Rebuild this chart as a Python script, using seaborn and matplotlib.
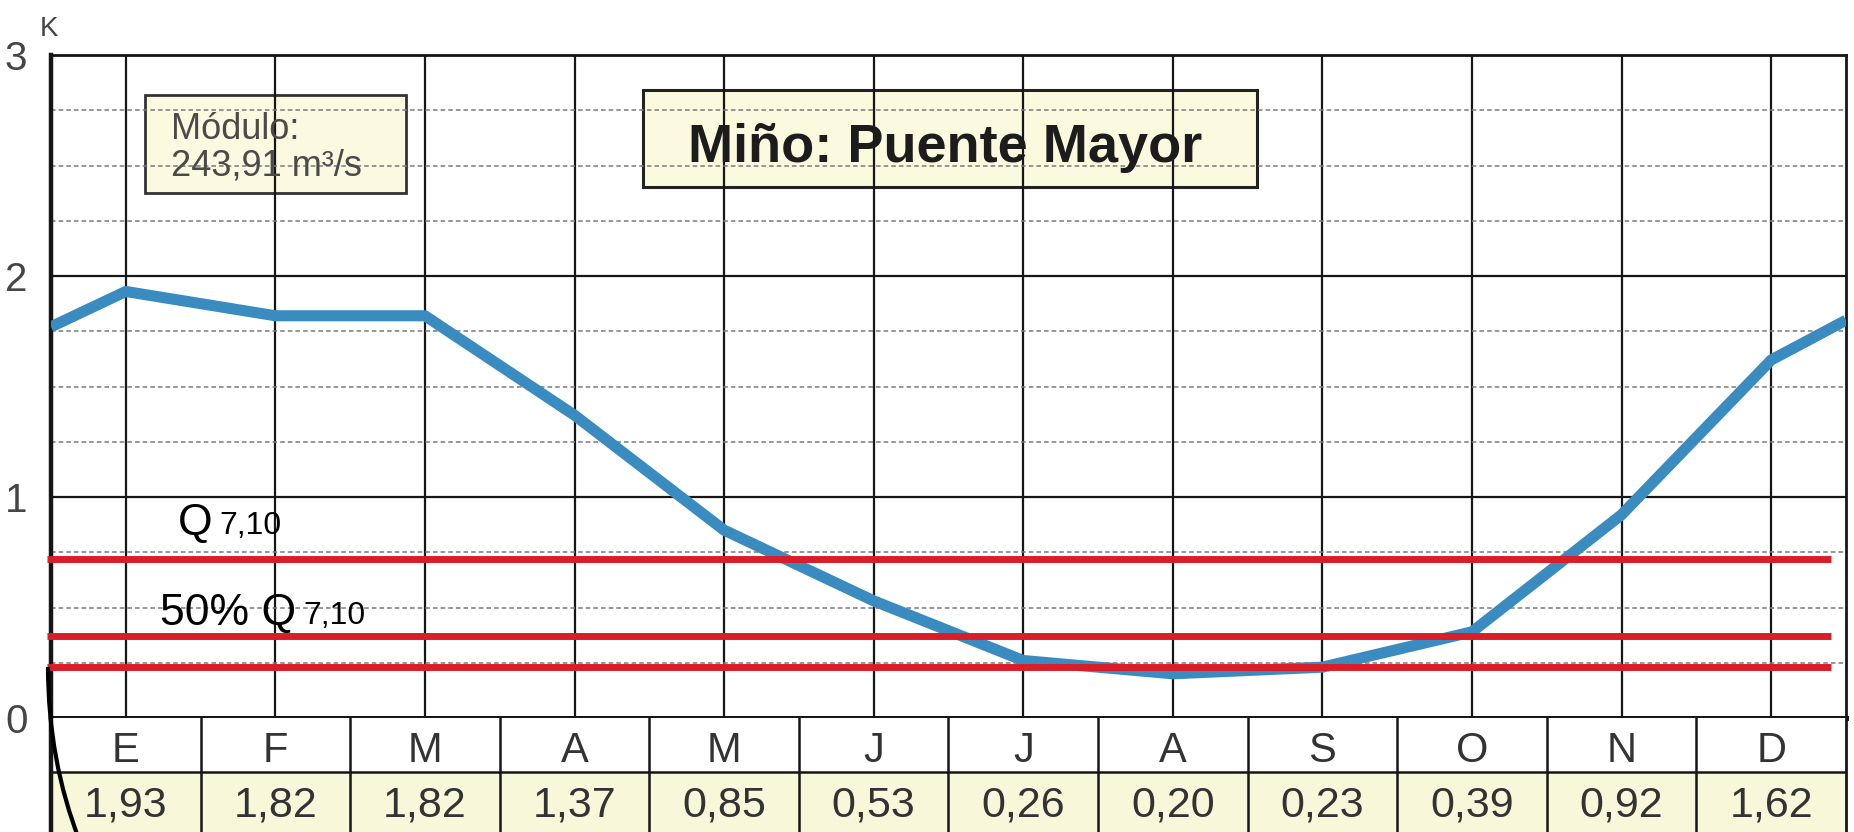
import numpy as np
import pandas as pd
import matplotlib
matplotlib.use("Agg")
import matplotlib.pyplot as plt
import matplotlib.transforms as mtransforms
from matplotlib.patches import Rectangle, PathPatch
from matplotlib.path import Path
import seaborn as sns

# ---------------- data ----------------
months = ["E", "F", "M", "A", "M", "J", "J", "A", "S", "O", "N", "D"]
k_values = [1.93, 1.82, 1.82, 1.37, 0.85, 0.53, 0.26, 0.20, 0.23, 0.39, 0.92, 1.62]
edge_left = 1.77    # curve value read at the left frame (continuation from December)
edge_right = 1.80   # curve value read at the right frame (continuation to January)
q_levels = [0.72, 0.37, 0.23]
y_ticks = [0, 1, 2, 3]
title = "Miño: Puente Mayor"
modulo_lines = ["Módulo:", "243,91 m³/s"]

W, H = 1854, 832
BLUE = "#3a8bc0"
RED = "#d91e2a"
YELLOW = "#f9f7da"
INK = "#161616"

sns.set_theme(style="white")
plt.rcParams['font.family'] = ['Liberation Sans', 'DejaVu Sans']

fig = plt.figure(figsize=(W / 100, H / 100), dpi=100)
fig.patch.set_facecolor("white")


def px(x0, y0, x1, y1):
    return [x0 / W, 1 - y1 / H, (x1 - x0) / W, (y1 - y0) / H]


tpx = mtransforms.Affine2D().scale(1 / W, -1 / H).translate(0, 1) + fig.transFigure

L, R, T, B0 = 51, 1846, 55, 718
ax = fig.add_axes(px(L, T, R, B0))
tab = fig.add_axes(px(L, B0, R, 842))

# ---------------- main chart ----------------
df = pd.DataFrame({
    "x": [-0.5] + list(range(len(months))) + [len(months) - 0.5],
    "k": [edge_left] + k_values + [edge_right],
})
sns.lineplot(data=df, x="x", y="k", ax=ax, color=BLUE, lw=8, sort=False,
             solid_joinstyle="round", solid_capstyle="butt", zorder=5)

ax.set_xlim(-0.5, len(months) - 0.5)
ax.set_ylim(0, 3)
ax.set_xticks(range(len(months)))
ax.set_xticklabels([])
ax.set_xlabel("")
ax.set_ylabel("")
ax.set_yticks(y_ticks)
ax.set_yticklabels([str(v) for v in y_ticks], fontsize=29, color="#454545")
ax.set_yticks(np.arange(0.25, 3.0, 0.25), minor=True)
ax.tick_params(axis="both", which="both", length=0)
ax.tick_params(axis="y", pad=17)
ax.set_axisbelow(True)
ax.grid(which="major", axis="both", color=INK, lw=1.6)
ax.grid(which="minor", axis="y", color="#7a7a7a", lw=1.1, ls=(0, (3, 2)))
ax.set_facecolor("white")
for side, lw in (("left", 3.2), ("bottom", 3.6), ("top", 2.0), ("right", 2.0)):
    ax.spines[side].set_visible(True)
    ax.spines[side].set_color(INK)
    ax.spines[side].set_linewidth(lw)

# Q7,10 levels
ax.hlines(q_levels, -0.53, 11.4, colors=RED, lw=5, clip_on=False, zorder=6)
q1 = ax.text(0.35, 0.83, "Q", fontsize=32, color="black", va="baseline", ha="left", zorder=7)
ax.annotate("7,10", xy=(1, 0), xycoords=q1, xytext=(5, 2), textcoords="offset points",
            fontsize=23, va="bottom", ha="left", color="black", zorder=7)
q2 = ax.text(0.23, 0.42, "50% Q", fontsize=32, color="black", va="baseline", ha="left", zorder=7)
ax.annotate("7,10", xy=(1, 0), xycoords=q2, xytext=(5, 2), textcoords="offset points",
            fontsize=23, va="bottom", ha="left", color="black", zorder=7)

# title box
ax.add_patch(Rectangle((643, 90), 614, 97, transform=tpx, facecolor="#fbfadf",
                       edgecolor="#222222", lw=2.2, zorder=0.3))
ax.text(688, 162, title, transform=tpx, fontsize=39, fontweight="bold", color="#1c1c1c",
        ha="left", va="baseline", zorder=4)

# module box
ax.add_patch(Rectangle((145, 95), 261, 98, transform=tpx, facecolor="#fafae0",
                       edgecolor="#333333", lw=2.0, zorder=0.3))
ax.text(171, 139, modulo_lines[0], transform=tpx, fontsize=26, color="#4a4a4a",
        ha="left", va="baseline", zorder=4)
ax.text(171, 176, modulo_lines[1], transform=tpx, fontsize=26, color="#4a4a4a",
        ha="left", va="baseline", zorder=4)

# K unit
fig.text(40, 36, "K", transform=tpx, fontsize=20, color="#454545", ha="left", va="baseline")

# ---------------- table ----------------
tab.set_xlim(-0.5, len(months) - 0.5)
tab.set_ylim(0, 124)
tab.axhspan(0, 70, color=YELLOW, zorder=0)
tab.axhline(70, color=INK, lw=1.8, zorder=2)
tab.set_xticks(np.arange(0.5, len(months) - 1, 1.0))
tab.set_xticklabels([])
tab.set_yticks([])
tab.tick_params(length=0)
tab.grid(which="major", axis="x", color=INK, lw=1.8)
tab.set_facecolor("white")
for side in ("left", "right", "bottom"):
    tab.spines[side].set_visible(True)
    tab.spines[side].set_color(INK)
tab.spines["left"].set_linewidth(3.2)
tab.spines["right"].set_linewidth(2.0)
tab.spines["top"].set_visible(False)
for i, (m, v) in enumerate(zip(months, k_values)):
    tab.text(i, 91, m, fontsize=30, color="#333333", ha="center", va="center")
    tab.text(i, 37, f"{v:.2f}".replace(".", ","), fontsize=31, color="#333333",
             ha="center", va="center")

# hand-drawn black arc at lower left
arc = Path([(48, 667), (48, 760), (80, 842)], [Path.MOVETO, Path.CURVE3, Path.CURVE3])
fig.add_artist(PathPatch(arc, transform=tpx, facecolor="none", edgecolor="black", lw=3))

fig.savefig("out.png", dpi=100, facecolor="white")
